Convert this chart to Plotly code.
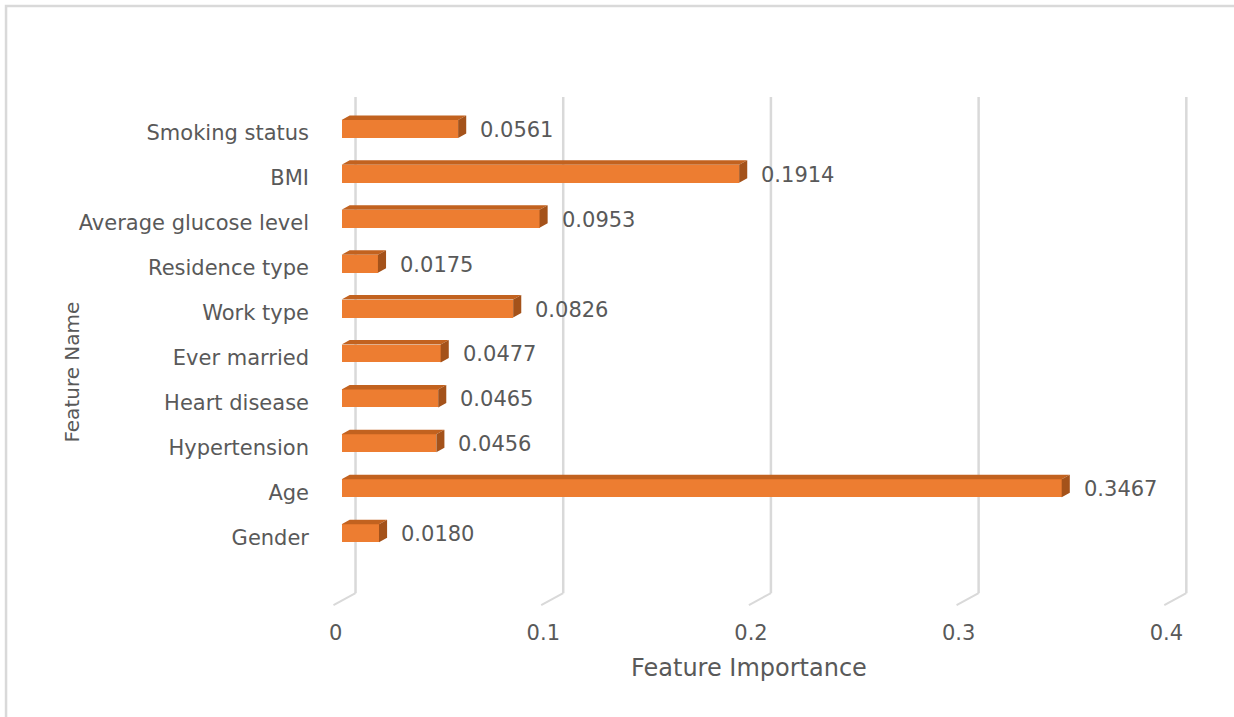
import plotly.graph_objects as go

# Feature importance of the stroke-prediction model (bottom to top)
features = [
    "Gender",
    "Age",
    "Hypertension",
    "Heart disease",
    "Ever married",
    "Work type",
    "Residence type",
    "Average glucose level",
    "BMI",
    "Smoking status",
]
importance = [0.0180, 0.3467, 0.0456, 0.0465, 0.0477, 0.0826, 0.0175, 0.0953, 0.1914, 0.0561]
value_text = ["0.0180", "0.3467", "0.0456", "0.0465", "0.0477",
              "0.0826", "0.0175", "0.0953", "0.1914", "0.0561"]

x_ticks = [0, 0.1, 0.2, 0.3, 0.4]
x_tick_text = ["0", "0.1", "0.2", "0.3", "0.4"]

x_title = "Feature Importance"
y_title = "Feature Name"

# --- styling -------------------------------------------------------------
FRONT = "#ED7D31"
TOP = "#C2621F"
SIDE = "#A4521A"
GRID = "#D9D9D9"
TEXT = "#595959"
FONT = "DejaVu Sans"

BAR_W = 0.40        # bar thickness in category units
DEPTH_X = 0.0039    # 3-D depth of a bar along x (data units)
DEPTH_Y = 0.10      # 3-D depth of a bar along y (category units)
WALL_X = 0.0067     # back wall offset of the gridlines
WALL_TOP = 9.71
FLOOR_BACK = -1.336
FLOOR_FRONT = -1.60
FLOOR_DX = -0.0039

X_RANGE = [-0.011363, 0.413288]
Y_RANGE = [-1.8, 10.0]

idx = list(range(len(features)))

fig = go.Figure()

# front faces of the bars
fig.add_trace(go.Bar(
    x=importance, y=idx, orientation="h", width=BAR_W,
    marker=dict(color=FRONT, line=dict(width=0)),
    hoverinfo="skip", showlegend=False,
))

# top faces and end faces of the bars (3-D look)
top_x, top_y, side_x, side_y = [], [], [], []
for i, v in zip(idx, importance):
    yt = i + BAR_W / 2
    yb = i - BAR_W / 2
    top_x += [0, DEPTH_X, v + DEPTH_X, v, 0, None]
    top_y += [yt, yt + DEPTH_Y, yt + DEPTH_Y, yt, yt, None]
    side_x += [v, v + DEPTH_X, v + DEPTH_X, v, v, None]
    side_y += [yb, yb + DEPTH_Y, yt + DEPTH_Y, yt, yb, None]

fig.add_trace(go.Scatter(
    x=top_x, y=top_y, mode="lines", fill="toself", fillcolor=TOP,
    line=dict(width=0, color=TOP), hoverinfo="skip", showlegend=False,
))
fig.add_trace(go.Scatter(
    x=side_x, y=side_y, mode="lines", fill="toself", fillcolor=SIDE,
    line=dict(width=0, color=SIDE), hoverinfo="skip", showlegend=False,
))

# gridlines on the back wall, with their slanted floor segment
shapes = []
for t in x_ticks:
    shapes.append(dict(
        type="line", xref="x", yref="y", layer="below",
        x0=t + WALL_X, x1=t + WALL_X, y0=FLOOR_BACK, y1=WALL_TOP,
        line=dict(color=GRID, width=2.5),
    ))
    shapes.append(dict(
        type="line", xref="x", yref="y", layer="below",
        x0=t + WALL_X, x1=t + FLOOR_DX, y0=FLOOR_BACK, y1=FLOOR_FRONT,
        line=dict(color=GRID, width=2),
    ))

# chart frame
shapes.append(dict(
    type="rect", xref="paper", yref="paper", layer="below",
    x0=-0.3537, x1=1.2, y0=-0.3, y1=1.1472,
    line=dict(color=GRID, width=2.5), fillcolor="rgba(0,0,0,0)",
))

annotations = []
for i, v, s in zip(idx, importance, value_text):
    annotations.append(dict(
        x=v, y=i, xref="x", yref="y", text=s, showarrow=False,
        xanchor="left", yanchor="middle", xshift=20, yshift=-1,
        font=dict(family=FONT, size=21, color=TEXT),
    ))

annotations.append(dict(
    x=0.4887, y=-0.1023, xref="paper", yref="paper", text=x_title,
    showarrow=False, xanchor="center", yanchor="middle",
    font=dict(family=FONT, size=24, color=TEXT),
))
annotations.append(dict(
    x=-0.2789, y=0.4555, xref="paper", yref="paper", text=y_title,
    showarrow=False, xanchor="center", yanchor="middle", textangle=-90,
    font=dict(family=FONT, size=20, color=TEXT),
))

fig.update_layout(
    width=1234, height=717,
    margin=dict(l=318, r=34, t=84, b=103),
    paper_bgcolor="white", plot_bgcolor="white",
    shapes=shapes, annotations=annotations,
    bargap=0,
    xaxis=dict(
        range=X_RANGE, tickvals=x_ticks, ticktext=x_tick_text,
        showgrid=False, zeroline=False, showline=False, ticks="",
        ticklabelshift=-6, ticklabelstandoff=4,
        tickfont=dict(family=FONT, size=21, color=TEXT),
    ),
    yaxis=dict(
        range=Y_RANGE, tickvals=idx, ticktext=features,
        showgrid=False, zeroline=False, showline=False, ticks="",
        ticklabelshift=4, ticklabelstandoff=8,
        tickfont=dict(family=FONT, size=21, color=TEXT),
    ),
)

fig.write_html("out.html")
